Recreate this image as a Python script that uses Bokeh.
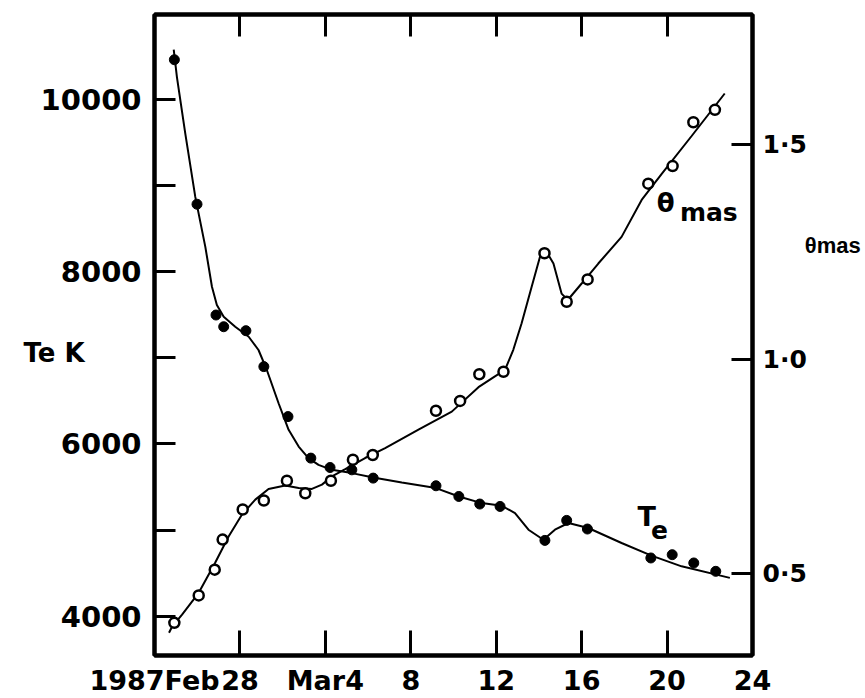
from bokeh.plotting import figure
from bokeh.models import Range1d, LinearAxis, FixedTicker, Label
from bokeh.embed import file_html
from bokeh.resources import INLINE

# x = days after 1987 Feb 24
x_ticks = [0, 4, 8, 12, 16, 20, 24, 28]
x_tick_labels = ["1987Feb", "28", "Mar4", "8", "12", "16", "20", "24"]
te_ticks = [4000, 6000, 8000, 10000]
te_minor_ticks = [5000, 7000, 9000]
te_tick_labels = ["4000", "6000", "8000", "10000"]
theta_ticks = [0.5, 1.0, 1.5]
theta_tick_labels = ["0·5", "1·0", "1·5"]

# Electron temperature Te (K), filled dots
te_day = [0.93, 1.99, 2.88, 3.24, 4.28, 5.12, 6.25, 7.32, 8.22, 9.24, 10.24,
          13.18, 14.25, 15.23, 16.18, 18.28, 19.30, 20.27, 23.24, 24.24, 25.25, 26.28]
te_val = [10460, 8783, 7497, 7361, 7315, 6898, 6318, 5836, 5727, 5700, 5604,
          5515, 5391, 5303, 5275, 4881, 5113, 5013, 4677, 4715, 4619, 4522]

# Angular diameter theta (mas), open circles
theta_day = [0.93, 2.07, 2.82, 3.19, 4.13, 5.12, 6.20, 7.06, 8.26, 9.29, 10.22,
             13.18, 14.31, 15.21, 16.34, 18.26, 19.30, 20.28, 23.12, 24.26, 25.23, 26.24]
theta_val = [0.386, 0.450, 0.510, 0.580, 0.650, 0.671, 0.717, 0.688, 0.717, 0.766, 0.777,
             0.880, 0.903, 0.965, 0.971, 1.247, 1.134, 1.186, 1.409, 1.450, 1.552, 1.581]

# Hand-drawn fitted curves
te_curve_day = [0.90, 1.05, 1.44, 1.91, 2.38, 2.69, 2.92, 3.24, 3.78, 4.41, 4.87, 5.26,
                5.81, 6.28, 6.75, 7.21, 7.68, 8.30, 9.24, 10.24, 11.58, 13.18, 14.25,
                15.32, 16.26, 16.88, 17.51, 18.21, 18.75, 19.38, 20.31, 21.87, 23.27,
                24.68, 26.94]
te_curve_val = [10576, 10259, 9606, 8868, 8288, 7825, 7613, 7477, 7361, 7245, 7091, 6859,
                6473, 6164, 5970, 5836, 5758, 5700, 5662, 5611, 5553, 5488, 5391,
                5314, 5283, 5198, 5005, 4889, 5005, 5083, 5025, 4851, 4704,
                4580, 4446]
theta_curve_day = [0.68, 0.82, 1.29, 2.07, 2.84, 3.47, 4.09, 4.72, 5.34, 6.12, 6.75, 7.37,
                   7.84, 8.31, 8.93, 9.86, 10.80, 12.36, 13.92, 15.17, 15.94, 16.41,
                   16.80, 17.19, 17.66, 18.05, 18.36, 18.68, 19.06, 19.35, 20.01, 20.78,
                   21.87, 22.81, 23.74, 25.15, 26.70]
theta_curve_val = [0.363, 0.377, 0.405, 0.456, 0.526, 0.587, 0.638, 0.673, 0.698, 0.706,
                   0.700, 0.698, 0.708, 0.727, 0.744, 0.770, 0.793, 0.836, 0.878, 0.935,
                   0.960, 0.975, 1.022, 1.084, 1.169, 1.239, 1.250, 1.223, 1.153, 1.138,
                   1.177, 1.223, 1.285, 1.371, 1.431, 1.520, 1.619]

FONT = "DejaVu Sans"

p = figure(width=865, height=698, x_range=Range1d(0, 28), y_range=Range1d(3545, 10985),
           output_backend="svg", toolbar_location=None,
           min_border_left=154, min_border_right=113, min_border_top=14, min_border_bottom=42)
p.extra_y_ranges = {"theta": Range1d(0.310, 1.803)}
p.grid.visible = False
p.outline_line_color = "black"
p.outline_line_width = 4
p.background_fill_color = "white"
p.border_fill_color = "white"


def style_axis(ax, tick_len, size, standoff):
    ax.axis_line_width = 4
    ax.axis_line_color = "black"
    ax.major_tick_in = tick_len
    ax.major_tick_out = 0
    ax.minor_tick_in = tick_len
    ax.minor_tick_out = 0
    ax.major_tick_line_width = 3
    ax.minor_tick_line_width = 3
    ax.major_tick_line_color = "black"
    ax.minor_tick_line_color = "black"
    ax.major_label_text_font = FONT
    ax.major_label_text_font_style = "bold"
    ax.major_label_text_font_size = size
    ax.major_label_text_color = "black"
    ax.major_label_standoff = standoff
    ax.axis_label_text_font = FONT
    ax.axis_label_text_font_style = "bold"
    ax.axis_label_text_color = "black"


# bottom axis
xa = p.xaxis[0]
xa.ticker = FixedTicker(ticks=x_ticks, minor_ticks=[])
xa.major_label_overrides = {t: l for t, l in zip(x_ticks, x_tick_labels)}
style_axis(xa, 25, "27px", 9)

# top axis (ticks only)
xt = LinearAxis(ticker=FixedTicker(ticks=x_ticks, minor_ticks=[]))
style_axis(xt, 22, "10px", 0)
xt.major_label_overrides = {t: "" for t in x_ticks}
p.add_layout(xt, "above")

# left axis
ya = p.yaxis[0]
ya.ticker = FixedTicker(ticks=te_ticks, minor_ticks=te_minor_ticks)
ya.major_label_overrides = {t: l for t, l in zip(te_ticks, te_tick_labels)}
style_axis(ya, 21, "29px", 13)
ya.axis_label = "\nTe K"
ya.axis_label_text_font_size = "26px"
ya.axis_label_orientation = "horizontal"
ya.axis_label_standoff = -47

# right axis
yr = LinearAxis(y_range_name="theta", ticker=FixedTicker(ticks=theta_ticks, minor_ticks=[]))
yr.major_label_overrides = {t: l for t, l in zip(theta_ticks, theta_tick_labels)}
style_axis(yr, 21, "25px", 10)
yr.axis_label = "θmas\n\n\n\n\n\n"
yr.axis_label_text_font = "Liberation Sans"
yr.axis_label_text_font_size = "22px"
yr.axis_label_orientation = "horizontal"
yr.axis_label_standoff = -5
p.add_layout(yr, "right")

# curves
p.line(te_curve_day, te_curve_val, line_color="black", line_width=2)
p.line(theta_curve_day, theta_curve_val, line_color="black", line_width=2, y_range_name="theta")

# points
p.scatter(te_day, te_val, size=10, fill_color="black", line_color="black")
p.scatter(theta_day, theta_val, size=10, fill_color="white", line_color="black",
          line_width=2.5, y_range_name="theta")


def lab(x, y, text, size):
    p.add_layout(Label(x=x, y=y, text=text, text_font=FONT, text_font_style="bold",
                       text_font_size=size, text_align="left", text_baseline="middle",
                       text_color="black"))


# in-plot annotations
lab(23.52, 8795, "θ", "26px")
lab(24.60, 8690, "mas", "25px")
lab(22.62, 5156, "T", "27px")
lab(23.25, 5000, "e", "25px")

open("out.html", "w").write(file_html(p, INLINE))
